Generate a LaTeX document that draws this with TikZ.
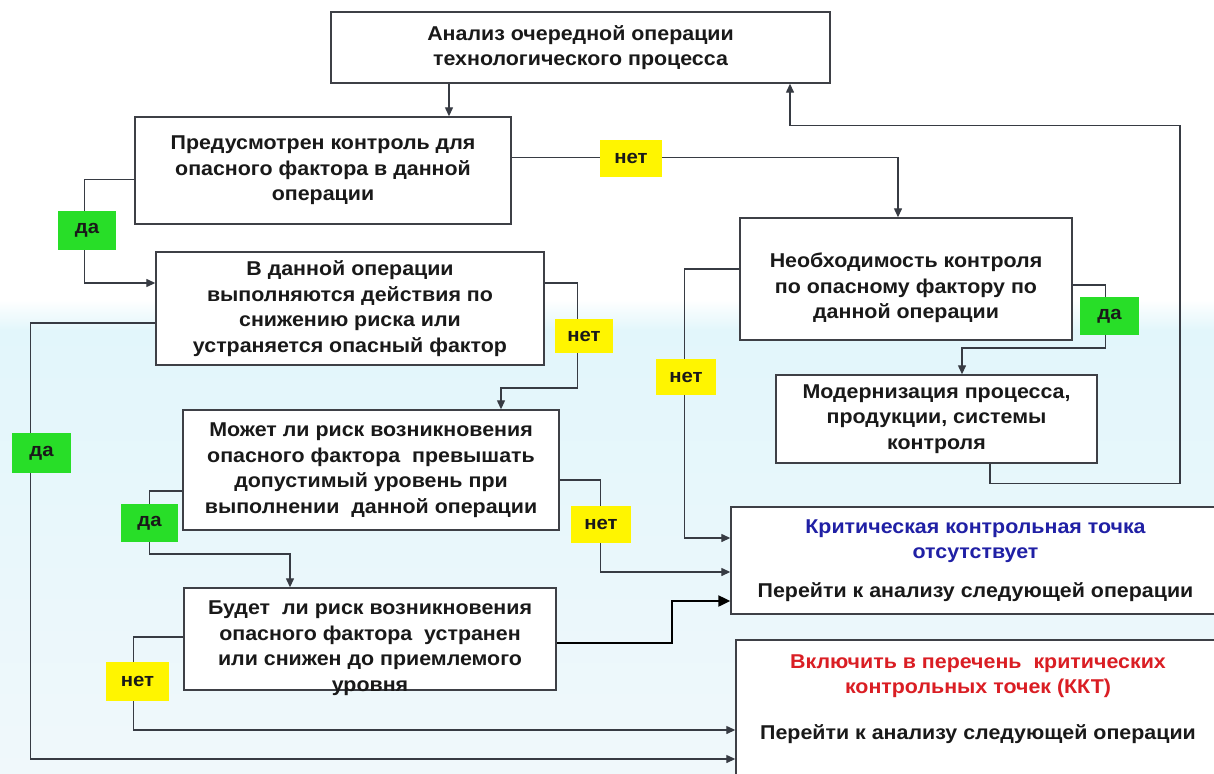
\documentclass[tikz,border=0pt]{standalone}
\usepackage{fontspec}
\setmainfont{Liberation Sans}[FakeStretch=1.07]
\usetikzlibrary{arrows.meta}
\definecolor{boxc}{RGB}{62,64,70}
\definecolor{linec}{RGB}{55,59,67}
\definecolor{txtc}{RGB}{25,25,25}
\definecolor{kblue}{RGB}{32,32,165}
\definecolor{kred}{RGB}{218,30,36}
\definecolor{lyellow}{RGB}{255,245,0}
\definecolor{lgreen}{RGB}{40,222,40}
\definecolor{bgtop}{RGB}{226,246,251}
\definecolor{bgbot}{RGB}{240,248,251}
\begin{document}
\begin{tikzpicture}[x=1pt,y=-1pt,
  box/.style={draw=boxc, line width=1.4pt, fill=white, inner sep=0pt, align=center,
    text=txtc, font=\bfseries\fontsize{20}{25.5}\selectfont},
  btext/.style={inner sep=0pt, align=center, text=txtc, font=\bfseries\fontsize{20}{25.5}\selectfont},
  lab/.style={inner sep=0pt, text=txtc, font=\bfseries\fontsize{19}{22}\selectfont},
  yes/.style={lab, fill=lgreen},
  no/.style={lab, fill=lyellow},
  arr/.style={draw=linec, line width=1.3pt, -{Triangle[length=9pt,width=8pt]}},
  boldarr/.style={draw=black, line width=2.2pt, -{Triangle[length=12pt,width=11pt]}}]
\useasboundingbox (0,0) rectangle (1214,773);
\clip (0,0) rectangle (1214,773);
% background
\fill[white] (0,0) rectangle (1214,773);
\shade[top color=white, bottom color=bgtop] (0,300) rectangle (1214,330);
\shade[top color=bgtop, bottom color=bgbot] (0,330) rectangle (1214,773);
% boxes
\node[box, minimum width=499pt, minimum height=71pt] (A) at (580.5,47.5)
  {Анализ очередной операции\\технологического процесса};
\node[box, minimum width=376pt, minimum height=107pt] (B) at (323,170.5)
  {Предусмотрен контроль для\\опасного фактора в данной\\операции};
\node[box, minimum width=388pt, minimum height=113pt] (C) at (350,308.5)
  {В данной операции\\выполняются действия по\\снижению риска или\\устраняется опасный фактор};
\node[box, minimum width=376pt, minimum height=120pt] (D) at (371,470)
  {Может ли риск возникновения\\опасного фактора~ превышать\\допустимый уровень при\\выполнении~ данной операции};
\node[box, minimum width=372pt, minimum height=102pt] (E) at (370,639) {};
\node[btext] (Et) at (370,648)
  {Будет~ ли риск возникновения\\опасного фактора~ устранен\\или снижен до приемлемого\\уровня};
\node[box, minimum width=332pt, minimum height=122pt] (G) at (906,279) {};
\node[btext] (Gt) at (906,288)
  {Необходимость контроля\\по опасному фактору по\\данной операции};
\node[box, minimum width=321pt, minimum height=88pt] (F) at (936.5,419)
  {Модернизация процесса,\\продукции, системы\\контроля};
\node[box, minimum width=489pt, minimum height=107pt] (H) at (975.5,560.5)
  {\textcolor{kblue}{Критическая контрольная точка}\\\textcolor{kblue}{отсутствует}\\[13pt]Перейти к анализу следующей операции};
\node[box, minimum width=484pt, minimum height=160pt] (I) at (978,720) {};
\node[btext] (It) at (978,699)
  {\textcolor{kred}{Включить в перечень~ критических}\\\textcolor{kred}{контрольных точек (ККТ)}\\[20pt]Перейти к анализу следующей операции};
% connectors
\draw[arr] ([xshift=-131.5pt]A.south) coordinate (a1) -- (a1 |- B.north);
\draw[arr] ([yshift=13pt]B.east) -| ([xshift=-8pt]G.north);
\draw[arr] ([xshift=53.5pt]F.south) -- ++(0,20) -- ++(190,0) -- ++(0,-358) -| ([xshift=209.5pt]A.south);
\draw[arr] ([yshift=-9pt]B.west) -- ++(-50,0) |- ([yshift=25.5pt]C.west);
\draw[arr] ([yshift=25.5pt]C.east) -- ++(33,0) -- ++(0,105) -| ([xshift=130pt]D.north);
\draw[arr] ([yshift=-14.5pt]C.west) -- ++(-125,0) |- ([yshift=-39pt]I.west);
\draw[arr] ([yshift=-21pt]D.west) -- ++(-33,0) -- ++(0,63) -| ([xshift=-80pt]E.north);
\draw[arr] ([yshift=-10pt]D.east) -- ++(41,0) |- ([yshift=-11.5pt]H.west);
\draw[boldarr] ([yshift=-4pt]E.east) -- ++(115,0) |- ([yshift=-40.5pt]H.west);
\draw[arr] ([yshift=2pt]E.west) -- ++(-50,0) |- ([yshift=-10pt]I.west);
\draw[arr] ([yshift=10pt]G.west) -- ++(-55,0) |- ([yshift=22.5pt]H.west);
\draw[arr] ([yshift=-6pt]G.east) -- ++(33,0) -- ++(0,63) -| ([xshift=25.5pt]F.north);
% labels
\node[no,  minimum width=62pt, minimum height=37pt] (l1) at (631,158) {нет};
\node[yes, minimum width=58pt, minimum height=39pt] (l2) at (87,230.5) {да};
\node[no,  minimum width=58pt, minimum height=34pt] (l3) at (584,336) {нет};
\node[yes, minimum width=59pt, minimum height=40pt] (l4) at (41.5,453) {да};
\node[yes, minimum width=57pt, minimum height=38pt] (l5) at (149.5,523) {да};
\node[no,  minimum width=60pt, minimum height=37pt] (l6) at (601,524.5) {нет};
\node[no,  minimum width=63pt, minimum height=39pt] (l7) at (137.5,681.5) {нет};
\node[no,  minimum width=60pt, minimum height=36pt] (l8) at (686,377) {нет};
\node[yes, minimum width=59pt, minimum height=38pt] (l9) at (1109.5,316) {да};
\end{tikzpicture}
\end{document}
